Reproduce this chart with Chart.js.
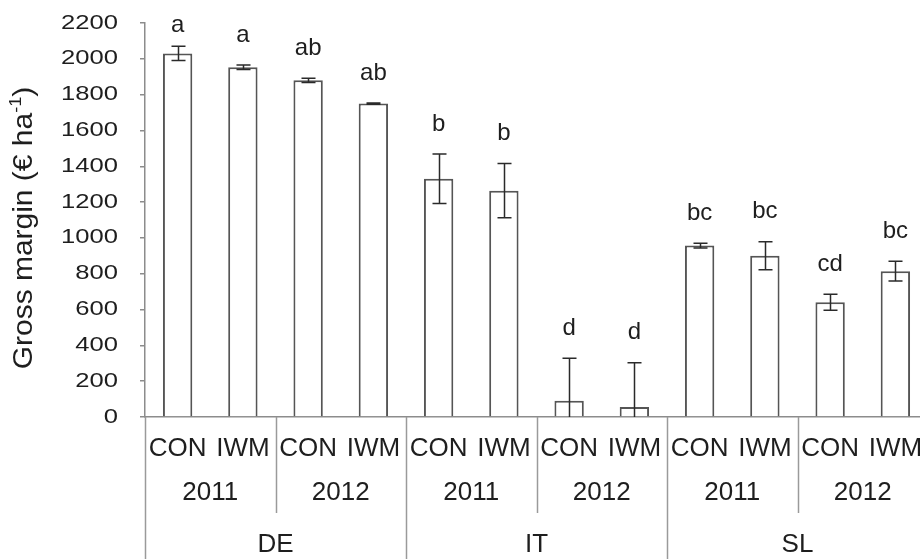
<!DOCTYPE html>
<html>
<head>
<meta charset="utf-8">
<script src="https://cdn.jsdelivr.net/npm/chart.js@4.4.1/dist/chart.umd.min.js"></script>
<style>
  html, body { margin: 0; padding: 0; overflow: hidden; background: #ffffff; }
  canvas { display: block; }
</style>
</head>
<body>
<canvas id="chart" width="930" height="559"></canvas>
<script>
// Gross margin per treatment, year and country
const treatments = ['CON', 'IWM', 'CON', 'IWM', 'CON', 'IWM', 'CON', 'IWM', 'CON', 'IWM', 'CON', 'IWM'];
const years = ['2011', '2012', '2011', '2012', '2011', '2012'];
const countries = ['DE', 'IT', 'SL'];
const grossMargin = [2030, 1953, 1880, 1750, 1330, 1264, 91, 56, 957, 900, 641, 814];
const stdError = [40, 13, 12, 3, 138, 152, 237, 247, 13, 78, 45, 55];
const letters = ['a', 'a', 'ab', 'ab', 'b', 'b', 'd', 'd', 'bc', 'bc', 'cd', 'bc'];

const FONT = '"Liberation Sans", Arial, Helvetica, sans-serif';
const TEXT = '#1e1e1e';
const AXIS = '#8c8c8c';

const decorations = {
  id: 'decorations',
  afterDatasetsDraw(chart) {
    const { ctx, chartArea: a, scales: { x, y } } = chart;

    // error bars, clipped at the zero line
    ctx.save();
    ctx.beginPath();
    ctx.rect(a.left, 0, a.right - a.left, a.bottom);
    ctx.clip();
    ctx.strokeStyle = '#2a2a2a';
    ctx.lineWidth = 1.5;
    const cap = 7;
    grossMargin.forEach((v, i) => {
      const cx = Math.round(x.getPixelForValue(i)) + 0.5;
      const hi = y.getPixelForValue(v + stdError[i]);
      const lo = y.getPixelForValue(v - stdError[i]);
      ctx.beginPath();
      ctx.moveTo(cx, hi);
      ctx.lineTo(cx, lo);
      ctx.moveTo(cx - cap, hi);
      ctx.lineTo(cx + cap, hi);
      if (lo < a.bottom) {
        ctx.moveTo(cx - cap, lo);
        ctx.lineTo(cx + cap, lo);
      }
      ctx.stroke();
    });
    ctx.restore();

    // significance letters
    ctx.save();
    ctx.fillStyle = TEXT;
    ctx.font = '24px ' + FONT;
    ctx.textAlign = 'center';
    ctx.textBaseline = 'middle';
    letters.forEach((t, i) => {
      const hi = y.getPixelForValue(grossMargin[i] + stdError[i]);
      const ly = Math.max(hi - 30, a.top + 2);
      ctx.fillText(t, x.getPixelForValue(i), ly);
    });
    ctx.restore();
  },
  afterDraw(chart) {
    const { ctx, chartArea: a, scales: { x, y } } = chart;
    const H = chart.height;

    // y tick labels
    ctx.save();
    ctx.fillStyle = TEXT;
    ctx.font = '20px ' + FONT;
    ctx.textAlign = 'right';
    ctx.textBaseline = 'middle';
    y.ticks.forEach(t => {
      const py = y.getPixelForValue(t.value);
      ctx.save();
      ctx.translate(a.left - 27, py);
      ctx.scale(1.28, 1);
      ctx.fillText(String(t.value), 0, 0);
      ctx.restore();
    });
    ctx.restore();

    // y axis title with superscript unit
    ctx.save();
    ctx.fillStyle = TEXT;
    ctx.translate(24, (a.top + a.bottom) / 2 + 8);
    ctx.rotate(-Math.PI / 2);
    ctx.scale(1.07, 1);
    ctx.textBaseline = 'middle';
    ctx.textAlign = 'left';
    const main = 'Gross margin (€ ha';
    const sup = '-1';
    const close = ')';
    ctx.font = '28px ' + FONT;
    const wMain = ctx.measureText(main).width;
    const wClose = ctx.measureText(close).width;
    ctx.font = '17px ' + FONT;
    const wSup = ctx.measureText(sup).width;
    let sx = -(wMain + wSup + wClose) / 2;
    ctx.font = '28px ' + FONT;
    ctx.fillText(main, sx, 0);
    sx += wMain;
    ctx.font = '17px ' + FONT;
    ctx.fillText(sup, sx, -8);
    sx += wSup;
    ctx.font = '28px ' + FONT;
    ctx.fillText(close, sx, 0);
    ctx.restore();

    // multi-level category labels
    ctx.save();
    ctx.fillStyle = TEXT;
    ctx.font = '26px ' + FONT;
    ctx.textAlign = 'center';
    ctx.textBaseline = 'middle';
    treatments.forEach((t, i) => ctx.fillText(t, x.getPixelForValue(i), a.bottom + 32));
    years.forEach((t, k) => {
      const cx = (x.getPixelForValue(2 * k) + x.getPixelForValue(2 * k + 1)) / 2;
      ctx.fillText(t, cx, a.bottom + 76);
    });
    countries.forEach((t, k) => {
      const cx = (x.getPixelForValue(4 * k - 0.5) + x.getPixelForValue(4 * k + 3.5)) / 2;
      ctx.fillText(t, cx, a.bottom + 128);
    });
    ctx.restore();

    // group dividers below the axis
    ctx.save();
    ctx.strokeStyle = '#9a9a9a';
    ctx.lineWidth = 1.5;
    for (let i = 0; i <= treatments.length; i += 2) {
      const px = Math.round(x.getPixelForValue(i - 0.5)) + 0.5;
      const toBottom = i % 4 === 0;
      ctx.beginPath();
      ctx.moveTo(px, a.bottom);
      ctx.lineTo(px, toBottom ? H : a.bottom + 96);
      ctx.stroke();
    }
    ctx.restore();
  }
};

new Chart(document.getElementById('chart'), {
  type: 'bar',
  data: {
    labels: treatments,
    datasets: [{
      data: grossMargin,
      backgroundColor: '#ffffff',
      borderColor: '#555555',
      borderWidth: 2,
      categoryPercentage: 1.0,
      barPercentage: 0.45
    }]
  },
  options: {
    responsive: false,
    animation: false,
    layout: { padding: { top: 23, right: 2, left: 0, bottom: 0 } },
    plugins: { legend: { display: false }, tooltip: { enabled: false } },
    scales: {
      x: {
        grid: { display: false },
        border: { display: true, color: AXIS, width: 1.5 },
        ticks: { display: false },
        afterFit(scale) { scale.height = 142; }
      },
      y: {
        min: 0,
        max: 2200,
        ticks: { display: false, stepSize: 200 },
        grid: { drawOnChartArea: false, drawTicks: true, tickLength: 5, color: AXIS, lineWidth: 1.5 },
        border: { display: true, color: AXIS, width: 1.5 },
        afterFit(scale) { scale.width = 145; }
      }
    }
  },
  plugins: [decorations]
});
</script>
</body>
</html>
